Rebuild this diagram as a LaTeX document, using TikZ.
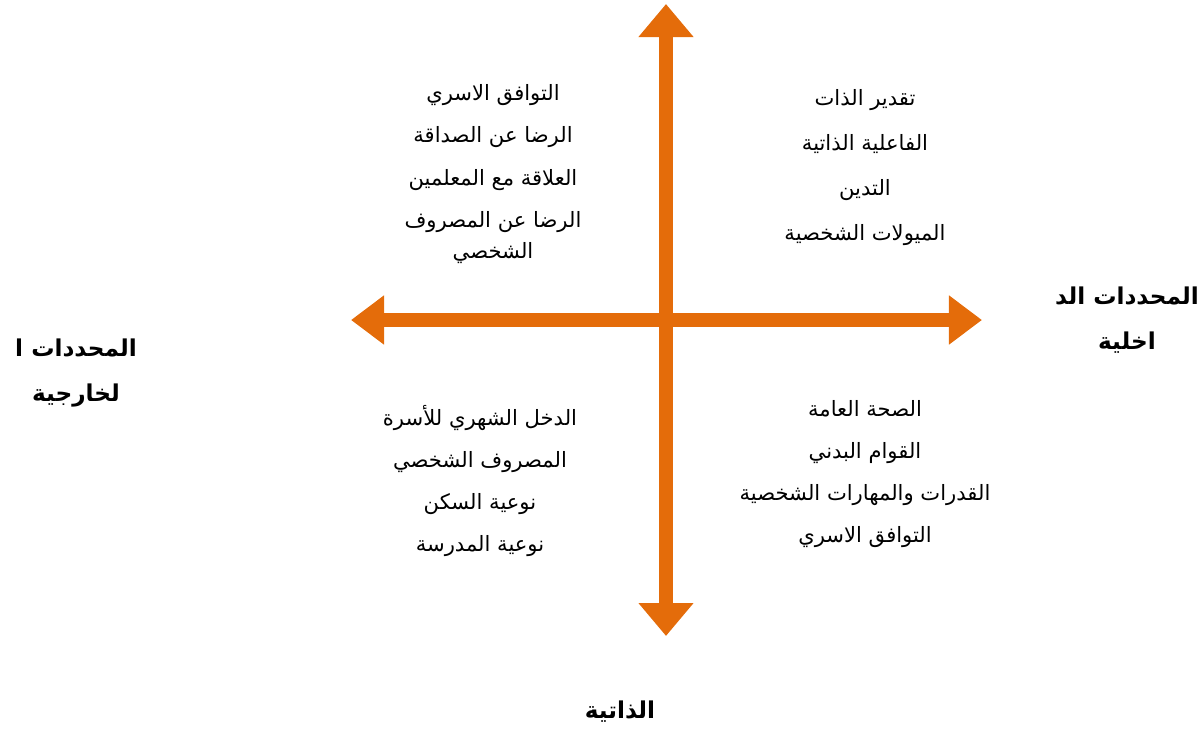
\documentclass[tikz,border=0pt]{standalone}
\usepackage{fontspec}
\newfontfamily\arabicfont[Script=Arabic]{DejaVu Sans}
\TeXXeTstate=1
\usetikzlibrary{arrows.meta}
\definecolor{axisorange}{HTML}{E46C0A}
\newcommand{\artxt}[1]{\beginR #1\endR}

\begin{document}
\begin{tikzpicture}[x=0.025cm, y=-0.025cm,
    axis/.style={axisorange, line width=0.35cm},
    items/.style={align=center, font=\arabicfont\fontsize{15}{22}\selectfont},
    heads/.style={align=center, font=\arabicfont\bfseries\fontsize{16.5}{32}\selectfont}]
    \useasboundingbox (0,0) rectangle (1199,733);
    % axes
    \coordinate (top) at (666,4);
    \coordinate (bottom) at (666,636);
    \coordinate (left) at (351,320);
    \coordinate (right) at (982,320);
    \draw [axis, {Triangle[length=0.825cm,width=1.175cm]}-{Triangle[length=0.825cm,width=1.175cm]}] (left) -- (right);
    \draw [axis, {Triangle[length=0.825cm,width=1.325cm]}-{Triangle[length=0.825cm,width=1.325cm]}] (bottom) -- (top);
    % quadrants
    \node [items] (tl) at (493,174) {\artxt{التوافق الاسري}\\[8pt]\artxt{الرضا عن الصداقة}\\[8pt]\artxt{العلاقة مع المعلمين}\\[8pt]\artxt{الرضا عن المصروف}\\\artxt{الشخصي}};
    \node [items] (tr) at (865,168) {\artxt{تقدير الذات}\\[10pt]\artxt{الفاعلية الذاتية}\\[10pt]\artxt{التدين}\\[10pt]\artxt{الميولات الشخصية}};
    \node [items] (bl) at (480,481) {\artxt{الدخل الشهري للأسرة}\\[8pt]\artxt{المصروف الشخصي}\\[8pt]\artxt{نوعية السكن}\\[8pt]\artxt{نوعية المدرسة}};
    \node [items] (br) at (865,474) {\artxt{الصحة العامة}\\[8pt]\artxt{القوام البدني}\\[8pt]\artxt{القدرات والمهارات الشخصية}\\[8pt]\artxt{التوافق الاسري}};
    % axis labels
    \node [heads] (ext) at (76,373) {\artxt{المحددات ا}\\\artxt{لخارجية}};
    \node [heads] (int) at (1127,320) {\artxt{المحددات الد}\\\artxt{اخلية}};
    \node [heads] (self) at (620,712) {\artxt{الذاتية}};
\end{tikzpicture}
\end{document}
